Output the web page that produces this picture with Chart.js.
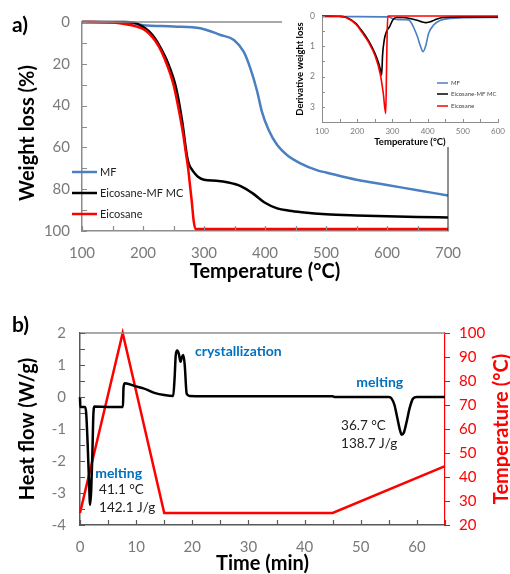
<!DOCTYPE html>
<html><head><meta charset="utf-8">
<script src="https://cdn.jsdelivr.net/npm/chart.js@4"></script>
<style>
html,body{margin:0;padding:0;background:#fff;}
#wrap{position:relative;width:510px;height:574px;overflow:hidden;background:#fff}
canvas{position:absolute}
</style></head><body>
<div id="wrap">
<canvas id="ca" width="510" height="290" style="left:0;top:0;width:510px;height:290px"></canvas>
<canvas id="ci" width="228" height="147" style="left:282px;top:0;width:228px;height:147px;background:#fff"></canvas>
<canvas id="cb" width="510" height="284" style="left:0;top:290px;width:510px;height:284px"></canvas>
</div>
<script>
// ---------- Panel a: TGA ----------
const tgaTempTicks = [100,200,300,400,500,600,700];
const weightTicks = [0,20,40,60,80,100];
const seriesNamesA = ['MF','Eicosane-MF MC','Eicosane'];
const mfTemp = [100,150,180,200,250,294,327,349,365,376,387,395,406,420,436,458,486,500,550,600,650,700];
const mfLoss = [0,0.1,0.5,1.5,2.1,3.0,6.2,8.6,14.2,22.2,33,43,51.7,58.9,63.6,67.6,71,72,75.5,78,80.5,83];
const mcTemp = [100,170,185,200,210,220,230,240,250,255,260,265,270,273,276,280,285,290,300,320,340,360,380,400,420,440,460,500,550,600,650,700];
const mcLoss = [0,0,0.3,2.3,4.5,8,13,19,27,32.5,40,49,60,65.5,68.5,70.5,72.5,74,75.5,76,76.8,78.5,82,86.5,89.2,90.3,91,92,92.6,93,93.3,93.5];
const eiTemp = [100,150,170,190,200,210,220,230,240,250,256,260,266,270,274,277,280,283,286,300,400,500,600,700];
const eiLoss = [0,0.3,1,2.2,3.3,5.5,9,14,21,30,38,44,54,62,70,78,86,95,99,99,99,99,99,99];

// ---------- Inset: DTG ----------
const dtgTempTicks = [100,200,300,400,500,600];
const dtgTicks = [0,1,2,3];
const dMfTemp = [100,200,290,300,320,340,348,355,362,371,380,387,394,403,417,435,463,500,600];
const dMf = [0.02,0.02,0.03,0.08,0.12,0.12,0.14,0.25,0.42,0.68,1.01,1.18,1.01,0.57,0.3,0.15,0.08,0.06,0.05];
const dMcTemp = [100,150,168,196,214,233,251,262,266,269.5,272,277,283,292,301,311,330,350,370,385,395,405,420,444,500,600];
const dMc = [0,0.01,0.04,0.24,0.5,0.83,1.25,1.6,1.78,1.95,1.3,0.78,0.52,0.35,0.13,0.05,0.05,0.08,0.14,0.2,0.22,0.2,0.13,0.05,0.03,0.03];
const dEiTemp = [100,150,168,196,214,233,251,265,274,281,283,285,287,300,600];
const dEi = [0,0.01,0.05,0.27,0.55,0.88,1.32,1.89,2.55,3.22,2.0,0.6,0,0,0];

// ---------- Panel b: DSC ----------
const timeTicks = [0,10,20,30,40,50,60];
const heatTicks = [-4,-3,-2,-1,0,1,2];
const tempTicks = [20,30,40,50,60,70,80,90,100];
const heatTime = [0,0.05,0.9,1.1,1.37,1.6,1.8,2.0,2.2,2.37,2.55,5,7.65,7.75,8.0,9.8,11.3,12.3,13.4,15,16.6,16.85,17.05,17.3,17.6,17.9,18.15,18.4,18.65,19.0,19.5,25,30,35,40,45,45.3,50,55,55.5,56,56.5,57,57.3,57.7,58.2,58.7,59.3,60,65];
const heatFlow = [0,-0.31,-0.31,-0.5,-1.5,-2.6,-3.37,-2.9,-1.8,-0.6,-0.3,-0.31,-0.31,0.3,0.43,0.34,0.27,0.2,0.12,0.06,0.03,0.6,1.3,1.45,1.35,1.1,1.25,1.31,1.0,0.1,0.03,0.02,0.02,0.02,0.02,0.02,0,0,0,-0.05,-0.25,-0.65,-1.05,-1.18,-1.1,-0.75,-0.35,-0.05,0,0];
const tempTime = [0,7.6,15,45,65];
const tempVal = [25,100,25,25,44.5];

const GRAY = '#7a7a7a';
const BLUE = '#4a7fc1';
Chart.defaults.font.family = 'Lato, "Open Sans", sans-serif';

function pts(xs, ys){ return xs.map((x,i)=>({x:x, y:ys[i]})); }
function fixTicks(arr){ return s => { s.ticks = arr.map(v=>({value:v})); }; }

const decor = {
  id: 'decor',
  afterDraw(chart, args, o) {
    const ctx = chart.ctx, ca = chart.chartArea;
    ctx.save();
    (o.lines || []).forEach(f => {
      ctx.strokeStyle = f.color; ctx.lineWidth = f.width;
      ctx.beginPath();
      if (f.side === 'top') { ctx.moveTo(ca.left, ca.top); ctx.lineTo(ca.right, ca.top); }
      if (f.side === 'right') { ctx.moveTo(ca.right, ca.top); ctx.lineTo(ca.right, ca.bottom); }
      ctx.stroke();
    });
    (o.marks || []).forEach(m => {
      const s = chart.scales[m.scale];
      ctx.strokeStyle = m.color; ctx.lineWidth = m.width || 1;
      ctx.beginPath();
      const lo = Math.min(s.min, s.max), hi = Math.max(s.min, s.max);
      for (let v = lo; v <= hi + 1e-9; v += m.step) {
        const p = Math.round(s.getPixelForValue(v)) + 0.5;
        if (s.isHorizontal()) { ctx.moveTo(p, ca.bottom); ctx.lineTo(p, ca.bottom + m.len); }
        else { const x0 = s.position === 'right' ? ca.right : ca.left; ctx.moveTo(x0, p); ctx.lineTo(x0 + m.len, p); }
      }
      ctx.stroke();
    });
    if (o.legend) {
      const L = o.legend;
      chart.data.datasets.forEach((d, i) => {
        const y = L.ys[i];
        ctx.strokeStyle = d.borderColor; ctx.lineWidth = L.lw;
        ctx.beginPath(); ctx.moveTo(L.x0, y); ctx.lineTo(L.x1, y); ctx.stroke();
        ctx.fillStyle = L.color; ctx.font = L.font; ctx.textAlign = 'left'; ctx.textBaseline = 'middle';
        ctx.fillText(d.label, L.tx, y);
      });
    }
    (o.texts || []).forEach(t => {
      let x = t.px, y = t.py;
      if (t.dx !== undefined) { x = chart.scales.x.getPixelForValue(t.dx); y = chart.scales[t.ys || 'y'].getPixelForValue(t.dy); }
      ctx.save(); ctx.translate(x, y); if (t.rot) ctx.rotate(t.rot);
      ctx.font = t.font; ctx.fillStyle = t.color; ctx.textAlign = t.align || 'left'; ctx.textBaseline = 'middle';
      ctx.fillText(t.t, 0, 0); ctx.restore();
    });
    ctx.restore();
  }
};

const common = { responsive:false, animation:false, devicePixelRatio:1, events:[] };
const noGrid = { display: false, drawTicks: false };

// Panel a
new Chart(document.getElementById('ca'), {
  type: 'line',
  data: { datasets: [
    { label: seriesNamesA[0], data: pts(mfTemp, mfLoss), borderColor: BLUE, borderWidth: 2.5, pointRadius: 0, cubicInterpolationMode: 'monotone', clip: false, order: 2 },
    { label: seriesNamesA[1], data: pts(mcTemp, mcLoss), borderColor: '#000000', borderWidth: 2.5, pointRadius: 0, cubicInterpolationMode: 'monotone', clip: false, order: 1 },
    { label: seriesNamesA[2], data: pts(eiTemp, eiLoss), borderColor: '#ff0000', borderWidth: 2.5, pointRadius: 0, cubicInterpolationMode: 'monotone', clip: false, order: 0 }
  ]},
  options: Object.assign({}, common, {
    layout: { padding: { top: 22, right: 62, left: 0, bottom: 0 } },
    plugins: { legend: { display: false }, tooltip: { enabled: false },
      decor: {
        lines: [ { side: 'top', color: '#8c8c8c', width: 1.5 }, { side: 'right', color: '#222', width: 1 } ],
        marks: [ { scale: 'x', step: 50, len: -5, color: '#8c8c8c', width: 1.2 }, { scale: 'y', step: 10, len: 5, color: '#8c8c8c', width: 1.2 } ],
        legend: { x0: 72, x1: 97, tx: 100, ys: [172, 193, 214], lw: 2.5, font: '11px Lato', color: '#222' },
        texts: [
          { t: 'a)', px: 12, py: 25, font: 'bold 21px Lato', color: '#000' },
          { t: 'Weight loss (%)', px: 28, py: 133, rot: -Math.PI / 2, align: 'center', font: 'bold 20px Lato', color: '#000' }
        ]
      }
    },
    scales: {
      x: { type: 'linear', min: 100, max: 700, afterBuildTicks: fixTicks(tgaTempTicks), afterFit: s => { s.height = 59; },
        grid: noGrid, border: { display: true, color: '#8c8c8c', width: 1.5 },
        ticks: { color: GRAY, font: { size: 15 }, padding: 13, maxRotation: 0, autoSkip: false },
        title: { display: true, text: 'Temperature (°C)', color: '#000', font: { size: 20, weight: 'bold', lineHeight: 1.2 }, padding: { top: 0, bottom: 6 } } },
      y: { type: 'linear', reverse: true, min: 0, max: 100, afterBuildTicks: fixTicks(weightTicks), afterFit: s => { s.width = 82; },
        grid: noGrid, border: { display: true, color: '#8c8c8c', width: 1.5 },
        ticks: { color: GRAY, font: { size: 15 }, padding: 12 },
        title: { display: false, text: 'Weight loss (%)' } }
    }
  }),
  plugins: [decor]
});

// Inset
new Chart(document.getElementById('ci'), {
  type: 'line',
  data: { datasets: [
    { label: seriesNamesA[0], data: pts(dMfTemp, dMf), borderColor: BLUE, borderWidth: 1.6, pointRadius: 0, cubicInterpolationMode: 'monotone', clip: false, order: 2 },
    { label: seriesNamesA[1], data: pts(dMcTemp, dMc), borderColor: '#000000', borderWidth: 1.6, pointRadius: 0, cubicInterpolationMode: 'monotone', clip: false, order: 1 },
    { label: seriesNamesA[2], data: pts(dEiTemp, dEi), borderColor: '#ff0000', borderWidth: 1.6, pointRadius: 0, cubicInterpolationMode: 'monotone', clip: false, order: 0 }
  ]},
  options: Object.assign({}, common, {
    layout: { padding: { top: 16, right: 7, left: 0, bottom: 0 } },
    plugins: { legend: { display: false }, tooltip: { enabled: false },
      decor: {
        marks: [ { scale: 'x', step: 50, len: -3, color: '#8c8c8c', width: 1 }, { scale: 'y', step: 0.5, len: 3, color: '#8c8c8c', width: 1 } ],
        legend: { x0: 155, x1: 166, tx: 169, ys: [83, 94, 106], lw: 1.5, font: '6px Lato', color: '#444' }
      }
    },
    scales: {
      x: { type: 'linear', min: 100, max: 600, afterBuildTicks: fixTicks(dtgTempTicks), afterFit: s => { s.height = 25; },
        grid: noGrid, border: { display: true, color: '#8c8c8c', width: 1 },
        ticks: { color: GRAY, font: { size: 8 }, padding: 5, maxRotation: 0, autoSkip: false },
        title: { display: true, text: 'Temperature (°C)', color: '#000', font: { size: 9.5, weight: 'bold', lineHeight: 1 }, padding: { top: 0, bottom: 0 } } },
      y: { type: 'linear', reverse: true, min: 0, max: 3.5, afterBuildTicks: fixTicks(dtgTicks), afterFit: s => { s.width = 40; },
        grid: noGrid, border: { display: true, color: '#8c8c8c', width: 1 },
        ticks: { color: GRAY, font: { size: 8.5 }, padding: 7 },
        title: { display: true, text: 'Derivative weight loss', color: '#000', font: { size: 9.5, weight: 'bold', lineHeight: 1.2 }, padding: { top: 12, bottom: 0 } } }
    }
  }),
  plugins: [decor]
});

// Panel b
new Chart(document.getElementById('cb'), {
  type: 'line',
  data: { datasets: [
    { label: 'Heat flow', data: pts(heatTime, heatFlow), yAxisID: 'y', borderColor: '#000000', borderWidth: 2.5, pointRadius: 0, cubicInterpolationMode: 'monotone', clip: false, order: 0 },
    { label: 'Temperature', data: pts(tempTime, tempVal), yAxisID: 'y2', borderColor: '#ff0000', borderWidth: 2.5, pointRadius: 0, tension: 0, clip: false, order: 1 }
  ]},
  options: Object.assign({}, common, {
    layout: { padding: { top: 43, right: 0, left: 0, bottom: 0 } },
    plugins: { legend: { display: false }, tooltip: { enabled: false },
      decor: {
        lines: [ { side: 'top', color: '#8c8c8c', width: 1.5 } ],
        marks: [ { scale: 'x', step: 5, len: -5, color: '#595959', width: 1.2 }, { scale: 'y', step: 0.5, len: 5, color: '#595959', width: 1.2 }, { scale: 'y2', step: 10, len: 5, color: '#ff0000', width: 1.2 } ],
        texts: [
          { t: 'b)', px: 12, py: 35, font: 'bold 21px Lato', color: '#000' },
          { t: 'Temperature (°C)', px: 502, py: 139, rot: -Math.PI / 2, align: 'center', font: 'bold 20px Lato', color: '#ff0000' },
          { t: 'crystallization', dx: 20.5, dy: 1.41, font: 'bold 14px Lato', color: '#0070c0' },
          { t: 'melting', dx: 49.2, dy: 0.44, font: 'bold 14px Lato', color: '#0070c0' },
          { t: '36.7 °C', dx: 46.5, dy: -0.9, font: '13.5px Lato', color: '#222' },
          { t: '138.7 J/g', dx: 46.5, dy: -1.47, font: '13.5px Lato', color: '#222' },
          { t: 'melting', dx: 2.7, dy: -2.375, font: 'bold 14px Lato', color: '#0070c0' },
          { t: '41.1 °C', dx: 3.4, dy: -2.9, font: '13.5px Lato', color: '#222' },
          { t: '142.1 J/g', dx: 3.4, dy: -3.47, font: '13.5px Lato', color: '#222' }
        ]
      }
    },
    scales: {
      x: { type: 'linear', min: 0, max: 65, afterBuildTicks: fixTicks(timeTicks), afterFit: s => { s.height = 49; },
        grid: noGrid, border: { display: true, color: '#595959', width: 1.5 },
        ticks: { color: GRAY, font: { size: 15 }, padding: 13, maxRotation: 0, autoSkip: false },
        title: { display: true, text: 'Time (min)', color: '#000', font: { size: 20, weight: 'bold', lineHeight: 1 }, padding: { top: 0, bottom: 0 } } },
      y: { type: 'linear', position: 'left', min: -4, max: 2, afterBuildTicks: fixTicks(heatTicks), afterFit: s => { s.width = 80; },
        grid: noGrid, border: { display: true, color: '#595959', width: 1.5 },
        ticks: { color: GRAY, font: { size: 15 }, padding: 14 },
        title: { display: true, text: 'Heat flow (W/g)', color: '#000', font: { size: 20, weight: 'bold', lineHeight: 1.2 }, padding: { top: 16, bottom: 0 } } },
      y2: { type: 'linear', position: 'right', min: 20, max: 100, afterBuildTicks: fixTicks(tempTicks), afterFit: s => { s.width = 65; },
        grid: noGrid, border: { display: true, color: '#ff0000', width: 1.2 },
        ticks: { color: '#ff0000', font: { size: 15 }, padding: 14 } }
    }
  }),
  plugins: [decor]
});
</script>
</body></html>
